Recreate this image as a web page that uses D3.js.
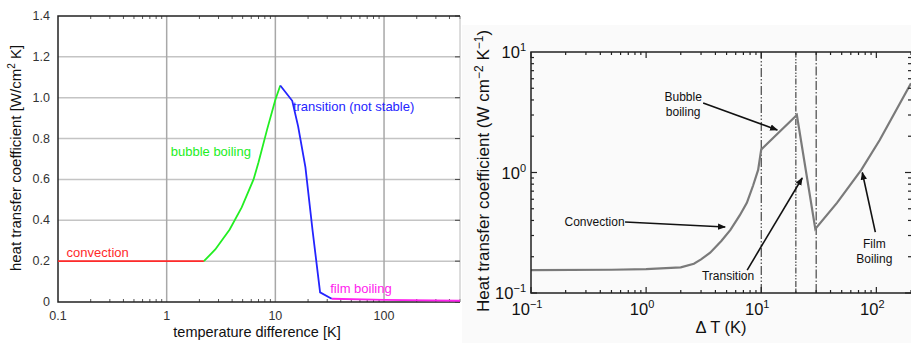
<!DOCTYPE html>
<html>
<head>
<meta charset="utf-8">
<script src="https://cdn.jsdelivr.net/npm/d3@7"></script>
<style>
  body { margin: 0; background: #fff; }
  text { font-family: "Liberation Sans", Arial, sans-serif; }
</style>
</head>
<body>
<script>
// ---- left chart data (linear y, log x) ----
var convX = [0.1, 2.2];
var convY = [0.2, 0.2];
var bubbleX = [2.2, 2.8, 3.8, 4.9, 6.3, 7.0, 8.4, 10, 11.1];
var bubbleY = [0.2, 0.257, 0.355, 0.463, 0.6, 0.684, 0.845, 0.99, 1.06];
var transX = [11.1, 14.3, 16.2, 18.9, 22, 25.8, 33];
var transY = [1.06, 0.985, 0.86, 0.66, 0.35, 0.047, 0.016];
var filmX = [33, 100, 500];
var filmY = [0.016, 0.01, 0.006];
var leftYTicks = [0, 0.2, 0.4, 0.6, 0.8, 1.0, 1.2, 1.4];
var leftXTicks = [0.1, 1, 10, 100];

// ---- right chart data (log-log) ----
var hX = [0.1, 0.5, 1, 2, 2.6, 3.0, 3.6, 4.5, 5.4, 6.5, 7.5, 8.5, 9.4, 10, 20.4, 29.5, 45.5, 74, 107, 200];
var hY = [0.155, 0.156, 0.158, 0.163, 0.175, 0.19, 0.216, 0.27, 0.334, 0.44, 0.56, 0.78, 1.05, 1.55, 3.0, 0.34, 0.56, 1.05, 1.86, 5.5];
var vlX = [10, 20, 30];
var rightXTicks = [-1, 0, 1, 2];
var rightYTicks = [-1, 0, 1];

var w = 911, h = 343;
var svg = d3.select("body").append("svg").attr("width", w).attr("height", h);

svg.append("defs").append("marker")
    .attr("id", "arr")
    .attr("viewBox", "0 0 10 10")
    .attr("refX", 9).attr("refY", 5)
    .attr("markerWidth", 5).attr("markerHeight", 5)
    .attr("orient", "auto")
    .append("path").attr("d", "M0,1L10,5L0,9z").attr("fill", "#111");

// ================= LEFT =================
var xL = d3.scaleLog().domain([0.1, 500]).range([58, 460]);
var yL = d3.scaleLinear().domain([0, 1.4]).range([302, 16]);
var gL = svg.append("g");

// grid
gL.selectAll(".hg").data(leftYTicks.slice(1, 7)).enter().append("line")
    .attr("x1", xL(0.1)).attr("x2", xL(500))
    .attr("y1", d => yL(d)).attr("y2", d => yL(d))
    .attr("stroke", "#c4c4c4").attr("stroke-width", 1.5);
gL.selectAll(".vg").data([1, 10, 100]).enter().append("line")
    .attr("x1", d => xL(d)).attr("x2", d => xL(d))
    .attr("y1", yL(0)).attr("y2", yL(1.4))
    .attr("stroke", "#a8a8a8").attr("stroke-width", 1.5);

// minor ticks top/bottom
var minorL = [];
[0.1, 1, 10, 100].forEach(function(b) {
  for (var k = 2; k <= 9; k++) if (b * k <= 500) minorL.push(b * k);
});
gL.selectAll(".mb").data(minorL).enter().append("line")
    .attr("x1", d => xL(d)).attr("x2", d => xL(d))
    .attr("y1", yL(0)).attr("y2", yL(0) - 3)
    .attr("stroke", "#555");
gL.selectAll(".mt").data(minorL).enter().append("line")
    .attr("x1", d => xL(d)).attr("x2", d => xL(d))
    .attr("y1", yL(1.4)).attr("y2", yL(1.4) + 3)
    .attr("stroke", "#555");
// right ticks
gL.append("line").attr("x1", 460).attr("x2", 460).attr("y1", yL(0)).attr("y2", yL(1.4))
    .attr("stroke", "#bbb");
gL.selectAll(".rt").data(leftYTicks).enter().append("line")
    .attr("x1", 455).attr("x2", 460)
    .attr("y1", d => yL(d)).attr("y2", d => yL(d))
    .attr("stroke", "#444");

// frame
gL.append("path")
    .attr("d", "M" + xL(500) + "," + yL(1.4) + "H" + xL(0.1) + "V" + yL(0) + "H" + xL(500))
    .attr("fill", "none").attr("stroke", "#222").attr("stroke-width", 1.5);

// curves
var lineL = d3.line().x(d => xL(d[0])).y(d => yL(d[1]));
function zip(a, b) { return a.map((v, i) => [v, b[i]]); }
[[convX, convY, "#ff2a2a"], [bubbleX, bubbleY, "#22ee22"], [transX, transY, "#2424ff"], [filmX, filmY, "#ff22ee"]]
  .forEach(function(s) {
    gL.append("path").datum(zip(s[0], s[1])).attr("d", lineL)
      .attr("fill", "none").attr("stroke", s[2]).attr("stroke-width", 1.8);
  });

// tick labels
gL.selectAll(".yl").data(leftYTicks).enter().append("text")
    .attr("x", 50).attr("y", d => yL(d) + 4)
    .attr("text-anchor", "end").attr("font-size", 12.5).attr("fill", "#333")
    .text(d => d === 0 ? "0" : d.toFixed(1));
gL.selectAll(".xl").data(leftXTicks).enter().append("text")
    .attr("x", d => xL(d)).attr("y", 320)
    .attr("text-anchor", "middle").attr("font-size", 12.5).attr("fill", "#333")
    .text(d => String(d));

gL.append("text").attr("x", 257).attr("y", 337).attr("text-anchor", "middle")
    .attr("font-size", 14.5).attr("fill", "#111").text("temperature difference [K]");
var yt = gL.append("text").attr("transform", "translate(21,158) rotate(-90)")
    .attr("text-anchor", "middle").attr("font-size", 15).attr("fill", "#111");
yt.append("tspan").text("heat transfer coefficient [W/cm");
yt.append("tspan").attr("dy", -6).attr("font-size", 10).text("2");
yt.append("tspan").attr("dy", 6).text(" K]");

// labels
var labL = [
  ["convection", 0.12, 0.22, "#ff2a2a"],
  ["bubble boiling", 1.09, 0.715, "#22ee22"],
  ["transition (not stable)", 14.5, 0.935, "#2424ff"],
  ["film boiling", 32, 0.045, "#ff22ee"]
];
gL.selectAll(".lab").data(labL).enter().append("text")
    .attr("x", d => xL(d[1])).attr("y", d => yL(d[2]))
    .attr("font-size", 13).attr("fill", d => d[3]).text(d => d[0]);

// ================= RIGHT =================
svg.append("rect").attr("x", 462).attr("y", 25).attr("width", 449).attr("height", 318)
    .attr("fill", "#fafafa");

var xR = d3.scaleLog().domain([0.1, 200]).range([531, 911]);
var yR = d3.scaleLog().domain([0.1, 10]).range([293, 52]);
var gR = svg.append("g");

// dash-dot verticals
var dashes = ["9,2,1.5,2,1.5,2", "1.5,1.5,1.5,1.5,6,1.5", "9,2,1.5,2"];
gR.selectAll(".vl").data(vlX).enter().append("line")
    .attr("x1", d => xR(d)).attr("x2", d => xR(d))
    .attr("y1", yR(0.1)).attr("y2", yR(10))
    .attr("stroke", "#222").attr("stroke-width", 1)
    .attr("stroke-dasharray", (d, i) => dashes[i]);

// curve
var lineR = d3.line().x(d => xR(d[0])).y(d => yR(d[1]));
gR.append("path").datum(zip(hX, hY)).attr("d", lineR)
    .attr("fill", "none").attr("stroke", "#7a7a7a").attr("stroke-width", 2.2);

// frame + ticks
gR.append("rect").attr("x", xR(0.1)).attr("y", yR(10))
    .attr("width", xR(200) - xR(0.1) + 2).attr("height", yR(0.1) - yR(10))
    .attr("fill", "none").attr("stroke", "#222").attr("stroke-width", 1.5);

var xTk = [];
[0.1, 1, 10, 100].forEach(function(b) {
  for (var k = 1; k <= 9; k++) if (b * k <= 200) xTk.push([b * k, k === 1]);
});
var yTk = [];
[0.1, 1].forEach(function(b) {
  for (var k = 1; k <= 9; k++) yTk.push([b * k, k === 1]);
});
[yR(0.1), yR(10)].forEach(function(y0, j) {
  gR.selectAll(".xt" + j).data(xTk).enter().append("line")
      .attr("x1", d => xR(d[0])).attr("x2", d => xR(d[0]))
      .attr("y1", y0).attr("y2", d => y0 + (j ? 1 : -1) * (d[1] ? 6 : 3))
      .attr("stroke", "#222").attr("stroke-width", 1.2);
});
[xR(0.1), xR(200)].forEach(function(x0, j) {
  gR.selectAll(".yt" + j).data(yTk).enter().append("line")
      .attr("y1", d => yR(d[0])).attr("y2", d => yR(d[0]))
      .attr("x1", x0).attr("x2", d => x0 + (j ? -1 : 1) * (d[1] ? 6 : 3))
      .attr("stroke", "#222").attr("stroke-width", 1.2);
});

// tick labels with superscripts
function pow10(sel) {
  sel.append("tspan").text("10");
  sel.append("tspan").attr("dy", -7).attr("font-size", 11).text(d => d < 0 ? "\u2212" + (-d) : d);
}
gR.selectAll(".xlab").data(rightXTicks).enter().append("text")
    .attr("x", d => xR(Math.pow(10, d)) - 4).attr("y", 315)
    .attr("text-anchor", "middle").attr("font-size", 16.5).attr("fill", "#111")
    .call(pow10);
gR.selectAll(".ylab").data(rightYTicks).enter().append("text")
    .attr("x", 526).attr("y", d => yR(Math.pow(10, d)) + 6)
    .attr("text-anchor", "end").attr("font-size", 16.5).attr("fill", "#111")
    .call(pow10);

gR.append("text").attr("x", 721).attr("y", 333).attr("text-anchor", "middle")
    .attr("font-size", 16.5).attr("fill", "#111").text("\u0394 T (K)");
var yr = gR.append("text").attr("transform", "translate(489,171) rotate(-90)")
    .attr("text-anchor", "middle").attr("font-size", 17).attr("fill", "#111");
yr.append("tspan").text("Heat transfer coefficient (W cm");
yr.append("tspan").attr("dy", -6).attr("font-size", 12).text("\u22122");
yr.append("tspan").attr("dy", 6).text(" K");
yr.append("tspan").attr("dy", -6).attr("font-size", 12).text("\u22121");
yr.append("tspan").attr("dy", 6).text(")");

// annotations: arrow from [x0,y0] to [x1,y1] in data units
var notes = [
  {lines: ["Bubble", "boiling"], tx: 2.1, ty: 3.9, anchor: "middle", a: [3.13, 3.78, 13.8, 2.25]},
  {lines: ["Convection"], tx: 0.65, ty: 0.36, anchor: "end", a: [0.656, 0.388, 4.86, 0.353]},
  {lines: ["Transition"], tx: 5.15, ty: 0.128, anchor: "middle", a: [7.55, 0.155, 22.7, 0.9]},
  {lines: ["Film", "Boiling"], tx: 96, ty: 0.235, anchor: "middle", a: [98, 0.32, 75.5, 1.0]}
];
notes.forEach(function(n) {
  gR.append("line")
    .attr("x1", xR(n.a[0])).attr("y1", yR(n.a[1]))
    .attr("x2", xR(n.a[2])).attr("y2", yR(n.a[3]))
    .attr("stroke", "#111").attr("stroke-width", 1.6)
    .attr("marker-end", "url(#arr)");
  var t = gR.append("text").attr("x", xR(n.tx)).attr("y", yR(n.ty))
    .attr("text-anchor", n.anchor).attr("font-size", 12).attr("fill", "#111");
  n.lines.forEach(function(s, i) {
    t.append("tspan").attr("x", xR(n.tx)).attr("dy", i ? 15 : 0).text(s);
  });
});
</script>
</body>
</html>
